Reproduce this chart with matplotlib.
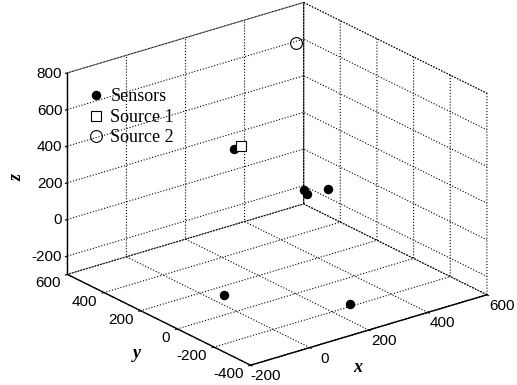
import matplotlib
matplotlib.use("Agg")
import matplotlib.pyplot as plt
from mpl_toolkits.mplot3d import proj3d

# Data
sensor_x = [143, 426, 415, 481, -33, 194]
sensor_y = [241, 319, 285, 277, 13, -308]
sensor_z = [400, 0, 0, 0, -200, -200]
source1_x, source1_y, source1_z = [170], [248], [400]
source2_x, source2_y, source2_z = [490], [465], [700]

x_ticks = [-200, 0, 200, 400, 600]
y_ticks = [-400, -200, 0, 200, 400, 600]
z_ticks = [-200, 0, 200, 400, 600, 800]
x_lim, y_lim, z_lim = (-200, 600), (-400, 600), (-300, 800)

plt.rcParams["grid.linestyle"] = ":"
plt.rcParams["grid.color"] = "black"
plt.rcParams["grid.linewidth"] = 0.8
plt.rcParams["font.family"] = "Liberation Sans"
plt.rcParams["font.size"] = 11

fig = plt.figure(figsize=(5.17, 3.85), dpi=100)
ax = fig.add_axes([0.026, 0.009, 1, 1], projection="3d", proj_type="ortho")
ax.view_init(elev=22.6, azim=-127.8)
ax.set_box_aspect((1, 1, 0.73), zoom=1.2)

ax.plot(sensor_x, sensor_y, sensor_z, "o", color="black", markersize=5.8, label="Sensors")
ax.plot(source1_x, source1_y, source1_z, "s", mfc="white", mec="black", mew=0.8,
        markersize=7, label="Source 1")
ax.plot(source2_x, source2_y, source2_z, "o", mfc="none", mec="black", mew=0.8,
        markersize=8.5, label="Source 2")

ax.set_xlim(*x_lim)
ax.set_ylim(*y_lim)
ax.set_zlim(*z_lim)
ax.set_xticks(x_ticks)
ax.set_yticks(y_ticks)
ax.set_zticks(z_ticks)

for axis in (ax.xaxis, ax.yaxis, ax.zaxis):
    axis.set_tick_params(labelbottom=False)  # drawn by hand below
    axis.label.set_visible(False)
    axis.offsetText.set_visible(False)
    axis.set_pane_color((1, 1, 1, 1))
    axis.pane.set_edgecolor("black")
    axis.pane.set_linestyle(":")
    axis.pane.set_linewidth(0.8)
    axis.line.set_color("black")
    axis.line.set_linewidth(1.0)
    axis._axinfo["tick"]["inward_factor"] = 0.1
    axis._axinfo["tick"]["outward_factor"] = 0.0

ax.legend(loc="upper left", bbox_to_anchor=(0.14, 0.813), bbox_transform=fig.transFigure,
          frameon=False, prop=dict(family="Liberation Serif", size=13),
          handlelength=0.8, handletextpad=0.4, labelspacing=0.2)

# tick labels, MATLAB style (plain hyphen, next to the front edges);
# projected once to 2D so they are ordinary figure texts
fig.canvas.draw()
W, H = fig.bbox.width, fig.bbox.height


def put_label(x, y, z, s, dx, dy, ha):
    xs, ys, _ = proj3d.proj_transform(x, y, z, ax.M)
    px, py = ax.transData.transform((xs, ys))
    fig.text((px + dx) / W, (py + dy) / H, s, ha=ha, va="center")


for t in x_ticks:
    put_label(t, y_lim[0], z_lim[0], str(t), 15, -11, "center")
for t in y_ticks:
    put_label(x_lim[0], t, z_lim[0], str(t), -7, -9, "right")
for t in z_ticks:
    put_label(x_lim[0], y_lim[1], t, str(t), -5, -1, "right")

# axis labels placed where the original puts them
lab_font = dict(family="Liberation Serif", style="italic", weight="bold", size=13)
fig.text(358 / 517, 1 - 367 / 385, "x", ha="center", va="center", **lab_font)
fig.text(137 / 517, 1 - 354 / 385, "y", ha="center", va="center", **lab_font)
fig.text(17 / 517, 1 - 177 / 385, "z", ha="center", va="center", rotation=90, **lab_font)

fig.savefig("out.png", dpi=100)
